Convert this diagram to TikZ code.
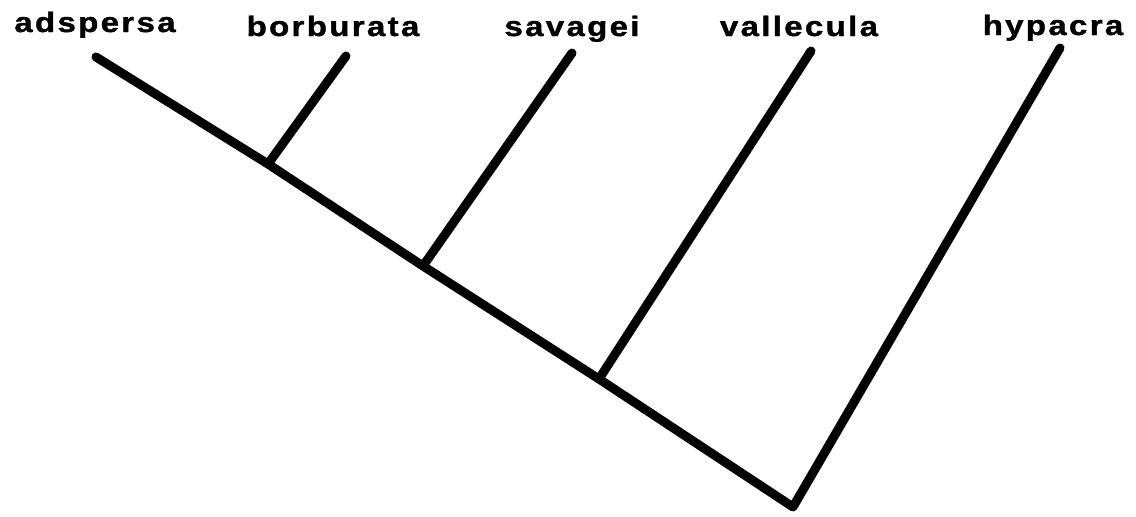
\documentclass[tikz,border=0pt]{standalone}
\usepackage{fontspec}
\setmainfont{Liberation Sans}[LetterSpace=7,BoldFeatures={FakeBold=1.2}]
\begin{document}
\begin{tikzpicture}[x=1pt,y=-1pt,
  branch/.style={line width=9pt,line cap=round,line join=round,black},
  taxon/.style={font=\bfseries\fontsize{28}{30}\selectfont,anchor=base,inner sep=0pt,xscale=1.18}]
\useasboundingbox (0,0) rectangle (1136,517);
% labels
\node[taxon] (lad) at (95,32) {adspersa};
\node[taxon] (lbo) at (333,36) {borburata};
\node[taxon] (lsa) at (572,36) {savagei};
\node[taxon] (lva) at (799,36) {vallecula};
\node[taxon] (lhy) at (1053,35) {hypacra};
% tips and nodes
\coordinate (tad) at (96,57);
\coordinate (tbo) at (346,56);
\coordinate (tsa) at (572,53);
\coordinate (tva) at (811,51);
\coordinate (thy) at (1060,48);
\coordinate (j1) at (268,164);
\coordinate (j2) at (423,266);
\coordinate (j3) at (599,379);
\coordinate (root) at (793,507);
% tree
\draw[branch] (tad) -- (j1) -- (j2) -- (j3) -- (root) -- (thy);
\draw[branch] (tbo) -- (j1);
\draw[branch] (tsa) -- (j2);
\draw[branch] (tva) -- (j3);
\end{tikzpicture}
\end{document}
